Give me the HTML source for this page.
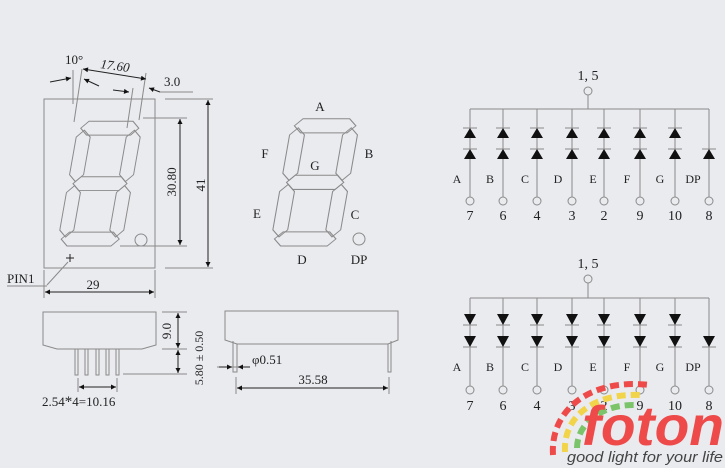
<!DOCTYPE html>
<html><head><meta charset="utf-8"><style>
html,body{margin:0;padding:0;background:#eaebef;}
svg{display:block}
text{font-family:"Liberation Serif",serif;fill:#222;}
</style></head><body>
<svg width="725" height="468" viewBox="0 0 725 468" xmlns="http://www.w3.org/2000/svg">
<defs>
<g id="digit" fill="none" stroke="#8a8a8a" stroke-width="1">
<polygon points="3,7 10,0 54,0 61,7 54,14 10,14"/>
<polygon points="5,63 12,56 52,56 59,63 52,70 12,70"/>
<polygon points="3,119 10,112 54,112 61,119 54,126 10,126"/>
<polygon points="7,9 14,16 14,54 7,61 0,54 0,16"/>
<polygon points="7,65 14,72 14,110 7,117 0,110 0,72"/>
<polygon points="57,9 64,16 64,54 57,61 50,54 50,16"/>
<polygon points="57,65 64,72 64,110 57,117 50,110 50,72"/>
</g>
<marker id="ar" viewBox="0 0 10 10" refX="10" refY="5" markerWidth="9" markerHeight="5" orient="auto-start-reverse" markerUnits="userSpaceOnUse"><path d="M0,0L10,5L0,10z" fill="#111"/></marker>
</defs>
<rect width="725" height="468" fill="#eaebef"/>

<!-- left front view -->
<g stroke="#8a8a8a" fill="none" stroke-width="1">
<rect x="44" y="99" width="111" height="169"/>
<line x1="73" y1="70" x2="73" y2="104"/>
<line x1="82" y1="69" x2="74" y2="122"/>
<line x1="146" y1="73" x2="139" y2="120"/>
<line x1="133" y1="88" x2="127" y2="128"/>
<line x1="143" y1="118" x2="187" y2="118"/>
<line x1="120" y1="246" x2="187" y2="246"/>
<line x1="165" y1="99" x2="213" y2="99"/>
<line x1="165" y1="268" x2="213" y2="268"/>
<line x1="44" y1="270" x2="44" y2="298"/>
<line x1="155" y1="270" x2="155" y2="298"/>
<line x1="193" y1="92" x2="160" y2="92"/>
<line x1="68" y1="262" x2="47" y2="285"/>
<line x1="7" y1="286" x2="47" y2="286"/>
<circle cx="141" cy="240" r="6"/>
</g>
<use href="#digit" transform="translate(57,246) skewX(-10) scale(1,0.99) translate(0,-126)"/>
<g stroke="#222" stroke-width="1" fill="none">
<line x1="83" y1="69" x2="146" y2="79" marker-start="url(#ar)" marker-end="url(#ar)"/>
<line x1="50" y1="82" x2="71" y2="78" marker-end="url(#ar)"/>
<line x1="99" y1="86" x2="84" y2="79" marker-end="url(#ar)"/>
<line x1="113" y1="90" x2="129" y2="92" marker-end="url(#ar)"/>
<line x1="160" y1="92" x2="149" y2="88" marker-end="url(#ar)"/>
<line x1="180" y1="119" x2="180" y2="245" marker-start="url(#ar)" marker-end="url(#ar)"/>
<line x1="208" y1="100" x2="208" y2="267" marker-start="url(#ar)" marker-end="url(#ar)"/>
<line x1="45" y1="292" x2="154" y2="292" marker-start="url(#ar)" marker-end="url(#ar)"/>
<line x1="66" y1="258" x2="74" y2="258"/><line x1="70" y1="254" x2="70" y2="262"/>
</g>
<text x="65" y="64" font-size="13">10°</text>
<text x="100" y="68" font-size="13" font-style="italic" transform="rotate(8 100 68)">17.60</text>
<text x="164" y="86" font-size="13">3.0</text>
<text x="176" y="182" font-size="13" text-anchor="middle" transform="rotate(-90 176 182)">30.80</text>
<text x="205" y="185" font-size="13" text-anchor="middle" transform="rotate(-90 205 185)">41</text>
<text x="7" y="283" font-size="13">PIN1</text>
<text x="93" y="289" font-size="13" text-anchor="middle">29</text>

<!-- middle digit -->
<use href="#digit" transform="translate(270,246) skewX(-10) scale(1.06,1.01) translate(0,-126)"/>
<circle cx="359" cy="239" r="6" fill="none" stroke="#8a8a8a"/>
<g font-size="13" text-anchor="middle">
<text x="320" y="111">A</text><text x="265" y="158">F</text><text x="369" y="158">B</text>
<text x="315" y="170">G</text><text x="257" y="218">E</text><text x="355" y="219">C</text>
<text x="302" y="264">D</text><text x="359" y="264">DP</text>
</g>

<!-- bottom side views -->
<g stroke="#8a8a8a" fill="none">
<path d="M43,312H156V345L142,349H57L43,345Z"/>
<path d="M75,349V375H78V349M85,349V375H88V349M96,349V375H99V349M106,349V375H109V349M116,349V375H119V349"/>
<line x1="162" y1="312" x2="187" y2="312"/><line x1="162" y1="349" x2="187" y2="349"/>
<line x1="123" y1="374" x2="187" y2="374"/>
<line x1="78" y1="378" x2="78" y2="392"/><line x1="117" y1="378" x2="117" y2="392"/>
<path d="M225,311H398V340L388,344H237L225,340Z"/>
<path d="M233,341V372H237V344M388,344V372H391V341"/>
<line x1="236" y1="377" x2="236" y2="394"/><line x1="389" y1="377" x2="389" y2="394"/>
<line x1="217" y1="367" x2="250" y2="367"/>
</g>
<g stroke="#222" fill="none">
<line x1="178" y1="313" x2="178" y2="348" marker-start="url(#ar)" marker-end="url(#ar)"/>
<line x1="178" y1="350" x2="178" y2="373" marker-start="url(#ar)" marker-end="url(#ar)"/>
<line x1="79" y1="387" x2="116" y2="387" marker-start="url(#ar)" marker-end="url(#ar)"/>
<line x1="219" y1="367" x2="232" y2="367" marker-end="url(#ar)"/>
<line x1="250" y1="367" x2="238" y2="367" marker-end="url(#ar)"/>
<line x1="237" y1="388" x2="388" y2="388" marker-start="url(#ar)" marker-end="url(#ar)"/>
</g>
<text x="171" y="331" font-size="13" text-anchor="middle" transform="rotate(-90 171 331)">9.0</text>
<text x="203" y="358" font-size="12" text-anchor="middle" transform="rotate(-90 203 358)">5.80 ± 0.50</text>
<text x="42" y="406" font-size="13">2.54<tspan font-size="15">*</tspan>4=10.16</text>
<text x="252" y="364" font-size="13">φ0.51</text>
<text x="313" y="384" font-size="13" text-anchor="middle">35.58</text>

<!-- schematics -->
<g stroke="#8a8a8a" fill="none">
<circle cx="588" cy="91" r="4"/><line x1="588" y1="95" x2="588" y2="109"/>
<line x1="470" y1="109" x2="709" y2="109"/>
<path d="M470,109V197M503,109V197M537,109V197M572,109V197M604,109V197M640,109V197M675,109V197M709,109V197"/>
<circle cx="470" cy="201" r="4"/><circle cx="503" cy="201" r="4"/><circle cx="537" cy="201" r="4"/><circle cx="572" cy="201" r="4"/><circle cx="604" cy="201" r="4"/><circle cx="640" cy="201" r="4"/><circle cx="675" cy="201" r="4"/><circle cx="709" cy="201" r="4"/>
<path d="M463,128h14M496,128h14M530,128h14M565,128h14M597,128h14M633,128h14M668,128h14M463,149h14M496,149h14M530,149h14M565,149h14M597,149h14M633,149h14M668,149h14M702,149h14"/>
<circle cx="588" cy="279" r="4"/><line x1="588" y1="283" x2="588" y2="298"/>
<line x1="470" y1="298" x2="709" y2="298"/>
<path d="M470,298V386M503,298V386M537,298V386M572,298V386M604,298V386M640,298V386M675,298V386M709,298V386"/>
<circle cx="470" cy="390" r="4"/><circle cx="503" cy="390" r="4"/><circle cx="537" cy="390" r="4"/><circle cx="572" cy="390" r="4"/><circle cx="604" cy="390" r="4"/><circle cx="640" cy="390" r="4"/><circle cx="675" cy="390" r="4"/><circle cx="709" cy="390" r="4"/>
<path d="M463,325h14M496,325h14M530,325h14M565,325h14M597,325h14M633,325h14M668,325h14M463,347h14M496,347h14M530,347h14M565,347h14M597,347h14M633,347h14M668,347h14M702,347h14"/>
</g>
<g fill="#111">
<path d="M464,138L476,138L470,128ZM497,138L509,138L503,128ZM531,138L543,138L537,128ZM566,138L578,138L572,128ZM598,138L610,138L604,128ZM634,138L646,138L640,128ZM669,138L681,138L675,128Z"/>
<path d="M464,159L476,159L470,149ZM497,159L509,159L503,149ZM531,159L543,159L537,149ZM566,159L578,159L572,149ZM598,159L610,159L604,149ZM634,159L646,159L640,149ZM669,159L681,159L675,149ZM703,159L715,159L709,149Z"/>
<path d="M464,314L476,314L470,325ZM497,314L509,314L503,325ZM531,314L543,314L537,325ZM566,314L578,314L572,325ZM598,314L610,314L604,325ZM634,314L646,314L640,325ZM669,314L681,314L675,325Z"/>
<path d="M464,336L476,336L470,347ZM497,336L509,336L503,347ZM531,336L543,336L537,347ZM566,336L578,336L572,347ZM598,336L610,336L604,347ZM634,336L646,336L640,347ZM669,336L681,336L675,347ZM703,336L715,336L709,347Z"/>
</g>
<g font-size="12" text-anchor="middle">
<text x="588" y="80" font-size="14">1, 5</text>
<text x="457" y="183">A</text><text x="490" y="183">B</text><text x="525" y="183">C</text><text x="558" y="183">D</text><text x="593" y="183">E</text><text x="627" y="183">F</text><text x="660" y="183">G</text><text x="693" y="183">DP</text>
<text x="588" y="268" font-size="14">1, 5</text>
<text x="457" y="371">A</text><text x="490" y="371">B</text><text x="525" y="371">C</text><text x="558" y="371">D</text><text x="593" y="371">E</text><text x="627" y="371">F</text><text x="660" y="371">G</text><text x="693" y="371">DP</text>
</g>
<g font-size="14" text-anchor="middle">
<text x="470" y="220">7</text><text x="503" y="220">6</text><text x="537" y="220">4</text><text x="572" y="220">3</text><text x="604" y="220">2</text><text x="640" y="220">9</text><text x="675" y="220">10</text><text x="709" y="220">8</text>
<text x="470" y="410">7</text><text x="503" y="410">6</text><text x="537" y="410">4</text><text x="572" y="410">3</text><text x="604" y="410">2</text><text x="640" y="410">9</text><text x="675" y="410">10</text><text x="709" y="410">8</text>
</g>

<!-- logo -->
<g fill="none" stroke-width="6" stroke-dasharray="9 5">
<path d="M553,455 C550,410 590,378 650,385" stroke="#ee4a4a"/>
<path d="M565,452 C563,418 592,393 640,395" stroke="#f2d44a"/>
<path d="M577,448 C577,425 600,404 636,405" stroke="#7cc46a"/>
</g>
<text x="582" y="445" font-size="56" font-weight="bold" font-style="italic" style="fill:#ee4a4a;font-family:'Liberation Sans',sans-serif" textLength="142" lengthAdjust="spacingAndGlyphs">foton</text>
<text x="567" y="462" font-size="15" font-style="italic" style="fill:#444;font-family:'Liberation Sans',sans-serif" textLength="156" lengthAdjust="spacingAndGlyphs">good light for your life</text>
</svg>
</body></html>
